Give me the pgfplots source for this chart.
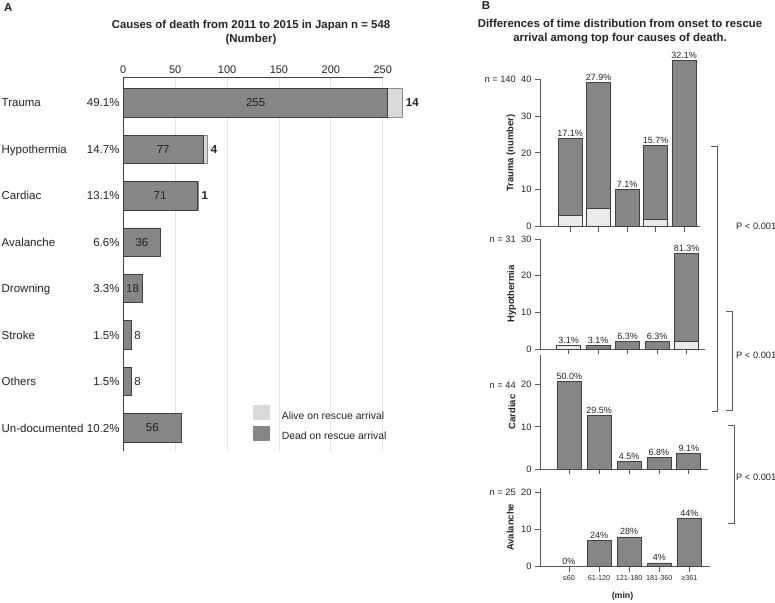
\documentclass[border=0pt]{standalone}
\usepackage{fontspec}
\setmainfont{Liberation Sans}
\usepackage{pgfplots}
\pgfplotsset{compat=1.18}
\definecolor{darkbar}{RGB}{134,134,134}
\definecolor{lightA}{RGB}{218,218,218}
\definecolor{lightB}{RGB}{234,234,234}
\definecolor{edgec}{RGB}{65,65,65}
\definecolor{gridc}{RGB}{228,228,228}
\definecolor{txt}{RGB}{35,35,35}
\definecolor{axc}{RGB}{90,90,90}

\pgfplotsset{
  Bax/.style={
    scale only axis, anchor=south west, ybar stacked, bar width=24pt,
    axis x line*=bottom, axis y line*=left, ymin=0,
    xtick={0,1,2,3,4}, xticklabels={},
    tick align=outside, major tick length=5pt,
    axis line style={axc, line width=0.8pt}, tick style={axc, line width=0.8pt},
    yticklabel style={font=\fontsize{9.3}{11}\selectfont, text=txt},
    clip=false, /pgf/number format/assume math mode=true,
    ylabel style={font=\bfseries\fontsize{9.4}{11}\selectfont, text=txt, anchor=center},
  },
  dk/.style={fill=darkbar, draw=edgec, line width=0.8pt},
  lt/.style={fill=lightB, draw=edgec, line width=0.8pt},
}
\tikzset{
  pct/.style={font=\fontsize{9}{10}\selectfont, text=txt, anchor=south, inner sep=0pt, yshift=1.8pt},
  alab/.style={font=\fontsize{11.5}{13}\selectfont, text=txt, inner sep=0pt},
  nm/.style={alab, anchor=base west, yshift=-4.1pt},
  pc/.style={alab, anchor=base east, yshift=-4.1pt},
  bl/.style={alab, font=\bfseries\fontsize{11.5}{13}\selectfont, anchor=west, xshift=3.3pt},
}

\begin{document}
\begin{tikzpicture}
\useasboundingbox (0pt,0pt) rectangle (775pt,-602pt);

% ---------------- Panel A ----------------
\node[font=\bfseries\fontsize{11.5}{13}\selectfont, text=txt, anchor=base west, inner sep=0pt] at (4pt,-11.7pt) {A};
\node[font=\bfseries\fontsize{11.4}{14}\selectfont, text=txt, align=center] at (251pt,-32.2pt) {Causes of death from 2011 to 2015 in Japan n = 548\\(Number)};

\begin{axis}[
  at={(123.3pt,-450.7pt)}, anchor=south west, scale only axis,
  width=259.4pt, height=373.4pt,
  xbar stacked, bar width=28.5pt,
  xmin=0, xmax=250, ymin=-0.489, ymax=7.549,
  axis x line*=top, axis y line*=left,
  xtick={0,50,100,150,200,250}, ytick=\empty,
  xmajorgrids, grid style={gridc, line width=0.8pt},
  major tick length=0pt,
  axis line style={edgec, line width=0.9pt},
  xticklabel style={font=\fontsize{11}{13}\selectfont, text=txt},
  clip=false, /pgf/number format/assume math mode=true,
  every axis plot post/.append style={legend image code/.code={\draw[#1, draw=none] (0pt,-3.8pt) rectangle (16.5pt,11.2pt); \path (28pt,0pt);}},
  legend style={at={(axis description cs:0.501,0.1235)}, anchor=north west, draw=none, fill=none, inner sep=0pt, row sep=5pt, font=\fontsize{10.4}{12}\selectfont, text=txt, nodes={inner sep=0pt}},
  reverse legend, legend cell align=left,
]
\addplot[fill=darkbar, draw=edgec, line width=0.8pt] coordinates {(255,7) (77,6) (71,5) (36,4) (18,3) (8,2) (8,1) (56,0)};
\addplot[fill=lightA, draw=edgec!60, line width=0.8pt] coordinates {(14,7) (4,6) (1,5) (0,4) (0,3) (0,2) (0,1) (0,0)};
\legend{Dead on rescue arrival, Alive on rescue arrival}

% category names
\node[nm] at (axis cs:-117.4,7) {Trauma};
\node[nm] at (axis cs:-117.4,6) {Hypothermia};
\node[nm] at (axis cs:-117.4,5) {Cardiac};
\node[nm] at (axis cs:-117.4,4) {Avalanche};
\node[nm] at (axis cs:-117.4,3) {Drowning};
\node[nm] at (axis cs:-117.4,2) {Stroke};
\node[nm] at (axis cs:-117.4,1) {Others};
\node[nm] at (axis cs:-117.4,0) {Un-documented};
% percentages
\node[pc] at (axis cs:-3.47,7) {49.1\%};
\node[pc] at (axis cs:-3.47,6) {14.7\%};
\node[pc] at (axis cs:-3.47,5) {13.1\%};
\node[pc] at (axis cs:-3.47,4) {6.6\%};
\node[pc] at (axis cs:-3.47,3) {3.3\%};
\node[pc] at (axis cs:-3.47,2) {1.5\%};
\node[pc] at (axis cs:-3.47,1) {1.5\%};
\node[pc] at (axis cs:-3.47,0) {10.2\%};
% anchor points for dead values (drawn after the axis, on top of the bars)
\coordinate (d7) at (axis cs:127.5,7);
\coordinate (d6) at (axis cs:38.5,6);
\coordinate (d5) at (axis cs:35.5,5);
\coordinate (d4) at (axis cs:18,4);
\coordinate (d3) at (axis cs:9,3);
\coordinate (d2) at (axis cs:8,2);
\coordinate (d1) at (axis cs:8,1);
\coordinate (d0) at (axis cs:28,0);
% alive values
\node[bl] at (axis cs:269,7) {14};
\node[bl] at (axis cs:81,6) {4};
\node[bl] at (axis cs:72,5) {1};
\end{axis}
\node[alab] at (d7) {255};
\node[alab] at (d6) {77};
\node[alab] at (d5) {71};
\node[alab] at (d4) {36};
\node[alab] at (d3) {18};
\node[alab, anchor=west, xshift=2.5pt] at (d2) {8};
\node[alab, anchor=west, xshift=2.5pt] at (d1) {8};
\node[alab] at (d0) {56};

% ---------------- Panel B ----------------
\node[font=\bfseries\fontsize{11.5}{13}\selectfont, text=txt, anchor=base west, inner sep=0pt] at (481.7pt,-9.7pt) {B};
\node[font=\bfseries\fontsize{11.4}{13.4}\selectfont, text=txt, align=center] at (620pt,-31.7pt) {Differences of time distribution from onset to rescue\\arrival among top four causes of death.};

% Trauma
\begin{axis}[Bax, at={(540pt,-226.7pt)}, width=160pt, height=147.7pt,
  xmin=-1.053, xmax=4.561, ymax=40, ytick={0,10,20,30,40},
  ylabel={Trauma (number)}, ylabel style={at={(axis description cs:-0.181,0.5)}}]
\addplot[lt] coordinates {(0,3) (1,5) (2,0) (3,2) (4,0)};
\addplot[dk] coordinates {(0,21) (1,34) (2,10) (3,20) (4,45)};
\node[pct] at (axis cs:0,24) {17.1\%};
\node[pct] at (axis cs:1,39) {27.9\%};
\node[pct] at (axis cs:2,10) {7.1\%};
\node[pct] at (axis cs:3,22) {15.7\%};
\node[pct] at (axis cs:4,45) {32.1\%};
\end{axis}

% Hypothermia
\begin{axis}[Bax, at={(540pt,-349pt)}, width=165pt, height=110pt,
  xmin=-0.966, xmax=4.627, ymax=30, ytick={0,10,20,30},
  ylabel={Hypothermia}, ylabel style={at={(axis description cs:-0.172,0.5)}}]
\addplot[lt] coordinates {(0,1) (1,0) (2,0) (3,0) (4,2)};
\addplot[dk] coordinates {(0,0) (1,1) (2,2) (3,2) (4,24)};
\node[pct] at (axis cs:0,1) {3.1\%};
\node[pct] at (axis cs:1,1) {3.1\%};
\node[pct] at (axis cs:2,2) {6.3\%};
\node[pct] at (axis cs:3,2) {6.3\%};
\node[pct] at (axis cs:4,26) {81.3\%};
\end{axis}

% Cardiac
\begin{axis}[Bax, at={(540pt,-469pt)}, width=168pt, height=114pt,
  xmin=-0.98, xmax=4.64, ymax=27.05, ytick={0,10,20},
  ylabel={Cardiac}, ylabel style={at={(axis description cs:-0.167,0.5)}}]
\addplot[dk] coordinates {(0,20.8) (1,12.7) (2,1.8) (3,2.7) (4,3.7)};
\node[pct] at (axis cs:0,20.8) {50.0\%};
\node[pct] at (axis cs:1,12.7) {29.5\%};
\node[pct] at (axis cs:2,1.8) {4.5\%};
\node[pct] at (axis cs:3,2.7) {6.8\%};
\node[pct] at (axis cs:4,3.7) {9.1\%};
\end{axis}

% Avalanche
\begin{axis}[Bax, at={(540pt,-566.7pt)}, width=170pt, height=78.7pt,
  xmin=-0.959, xmax=4.684, ymax=21.16, ytick={0,10,20},
  xticklabels={≤60,61-120,121-180,181-360,≥361},
  xticklabel style={font=\fontsize{7.2}{8}\selectfont, text=txt},
  ylabel={Avalanche}, ylabel style={at={(axis description cs:-0.175,0.5)}}]
\addplot[dk] coordinates {(0,0) (1,7) (2,8) (3,1) (4,13)};
\node[pct] at (axis cs:0,0) {0\%};
\node[pct] at (axis cs:1,7) {24\%};
\node[pct] at (axis cs:2,8) {28\%};
\node[pct] at (axis cs:3,1) {4\%};
\node[pct] at (axis cs:4,13) {44\%};
\end{axis}

\node[font=\bfseries\fontsize{8.8}{10}\selectfont, text=txt] at (622.5pt,-596pt) {(min)};

% n labels
\foreach \t/\y in {{n = 140}/82.35, {n = 31}/242.35, {n = 44}/388.05, {n = 25}/495.65}{
  \node[font=\fontsize{9.3}{11}\selectfont, text=txt, anchor=base east, inner sep=0pt] at (516pt,-\y pt) {\t};
}

% brackets
\draw[axc, line width=0.8pt] (710.7pt,-146.7pt) -- (717.3pt,-146.7pt) -- (717.3pt,-411.7pt) -- (711.7pt,-411.7pt);
\draw[axc, line width=0.8pt] (726pt,-311pt) -- (732.7pt,-311pt) -- (732.7pt,-410pt) -- (726pt,-410pt);
\draw[axc, line width=0.8pt] (728.3pt,-425pt) -- (734.3pt,-425pt) -- (734.3pt,-523.3pt) -- (728.3pt,-523.3pt);
\foreach \y in {226.7, 355, 477.3}{
  \node[font=\fontsize{9.3}{11}\selectfont, text=txt, anchor=west, inner sep=0pt] at (736pt,-\y pt) {P < 0.001};
}
\end{tikzpicture}
\end{document}
